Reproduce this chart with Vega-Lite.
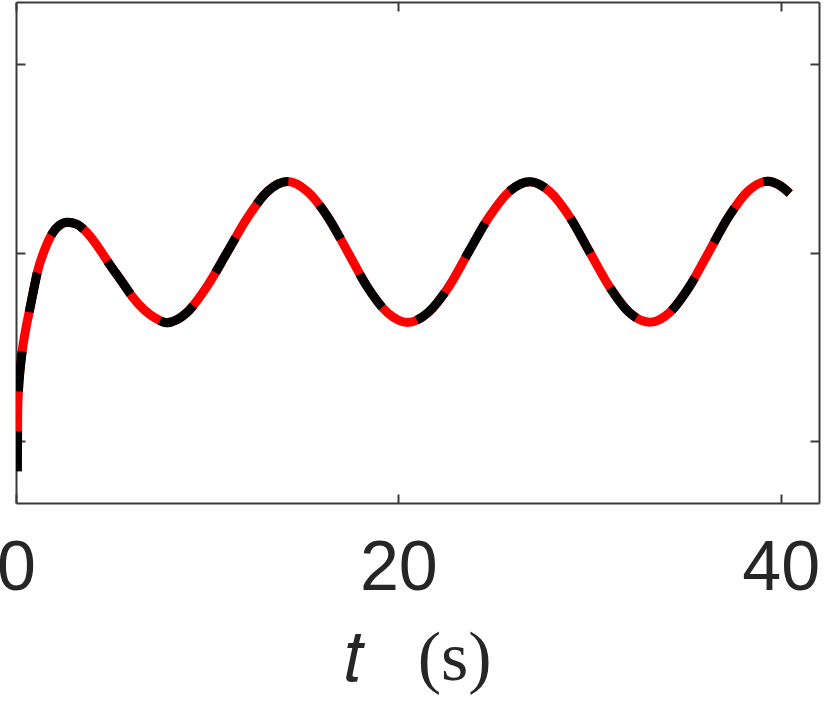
{
  "$schema": "https://vega.github.io/schema/vega-lite/v6.json",
  "autosize": {"type": "none"},
  "padding": {"left": 16, "top": 2, "right": 5, "bottom": 211},
  "width": 803,
  "height": 501,
  "background": "white",
  "data": {"values": [
    {"t": 0.07, "v": -0.161},
    {"t": 0.08, "v": 0.004},
    {"t": 0.09, "v": 0.163},
    {"t": 0.13, "v": 0.269},
    {"t": 0.21, "v": 0.375},
    {"t": 0.33, "v": 0.482},
    {"t": 0.5, "v": 0.588},
    {"t": 0.71, "v": 0.694},
    {"t": 0.92, "v": 0.8},
    {"t": 1.13, "v": 0.901},
    {"t": 1.49, "v": 1.013},
    {"t": 1.91, "v": 1.103},
    {"t": 2.28, "v": 1.145},
    {"t": 2.69, "v": 1.161},
    {"t": 3.17, "v": 1.151},
    {"t": 3.69, "v": 1.108},
    {"t": 4.26, "v": 1.034},
    {"t": 4.89, "v": 0.938},
    {"t": 5.52, "v": 0.848},
    {"t": 6.1, "v": 0.763},
    {"t": 6.72, "v": 0.694},
    {"t": 7.3, "v": 0.651},
    {"t": 7.88, "v": 0.627},
    {"t": 8.92, "v": 0.679},
    {"t": 9.97, "v": 0.817},
    {"t": 11.04, "v": 1.0},
    {"t": 12.12, "v": 1.187},
    {"t": 13.16, "v": 1.325},
    {"t": 14.21, "v": 1.377},
    {"t": 15.25, "v": 1.323},
    {"t": 16.3, "v": 1.19},
    {"t": 17.35, "v": 1.003},
    {"t": 18.39, "v": 0.815},
    {"t": 19.44, "v": 0.68},
    {"t": 20.49, "v": 0.629},
    {"t": 21.55, "v": 0.681},
    {"t": 22.62, "v": 0.816},
    {"t": 23.68, "v": 1.004},
    {"t": 24.74, "v": 1.188},
    {"t": 25.81, "v": 1.325},
    {"t": 26.87, "v": 1.376},
    {"t": 27.92, "v": 1.323},
    {"t": 28.97, "v": 1.187},
    {"t": 30.01, "v": 1.001},
    {"t": 31.06, "v": 0.815},
    {"t": 32.1, "v": 0.679},
    {"t": 33.15, "v": 0.63},
    {"t": 34.18, "v": 0.681},
    {"t": 35.21, "v": 0.817},
    {"t": 36.24, "v": 1.003},
    {"t": 37.27, "v": 1.189},
    {"t": 38.29, "v": 1.326},
    {"t": 39.32, "v": 1.378},
    {"t": 39.95, "v": 1.356},
    {"t": 40.47, "v": 1.313}
  ]},
  "layer": [
    {
      "mark": {"type": "line", "color": "#ff0000", "strokeWidth": 9, "interpolate": "monotone", "strokeCap": "butt", "clip": true},
      "encoding": {
        "x": {"field": "t", "type": "quantitative", "scale": {"domain": [0, 42], "nice": false, "zero": false},
          "axis": {"orient": "bottom", "values": [0, 20, 40], "title": "𝑡\u00a0\u00a0\u00a0(s)", "labelFontSize": 70, "labelPadding": 40,
            "titleFont": "Liberation Serif", "titleFontWeight": "normal", "titleFontSize": 70, "titlePadding": 21}},
        "y": {"field": "v", "type": "quantitative", "scale": {"domain": [-0.33, 2.33], "nice": false, "zero": false},
          "axis": {"orient": "left", "values": [0, 1, 2], "labels": false, "title": null}}
      }
    },
    {
      "mark": {"type": "line", "color": "#000000", "strokeWidth": 9, "interpolate": "monotone", "strokeCap": "butt", "strokeDash": [40, 40], "clip": true},
      "encoding": {
        "x": {"field": "t", "type": "quantitative",
          "axis": {"orient": "top", "values": [0, 20, 40], "labels": false, "title": null}},
        "y": {"field": "v", "type": "quantitative",
          "axis": {"orient": "right", "values": [0, 1, 2], "labels": false, "title": null}}
      }
    }
  ],
  "resolve": {"axis": {"x": "independent", "y": "independent"}},
  "config": {
    "view": {"stroke": null},
    "axis": {
      "grid": false,
      "domainColor": "#3a3a3a",
      "domainWidth": 2,
      "tickColor": "#3a3a3a",
      "tickWidth": 2,
      "tickSize": -9,
      "labelFont": "Liberation Sans",
      "labelColor": "#262626",
      "labelFlush": false,
      "labelOverlap": false,
      "labelBound": false,
      "titleColor": "#262626"
    }
  }
}
